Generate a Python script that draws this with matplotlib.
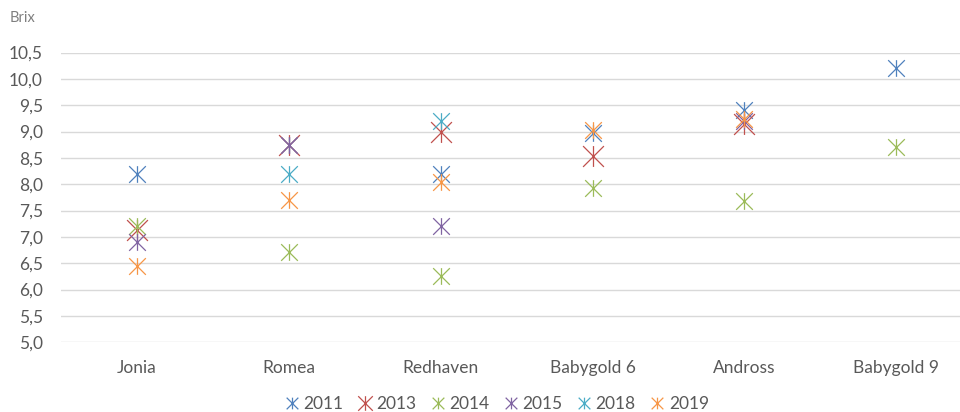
import numpy as np
import matplotlib
matplotlib.use("Agg")
import matplotlib.pyplot as plt
from matplotlib.path import Path

plt.rcParams['font.family'] = ['Lato', 'DejaVu Sans']

categories = ["Jonia", "Romea", "Redhaven", "Babygold 6", "Andross", "Babygold 9"]
nan = np.nan
brix_2011 = [8.2, 8.75, 8.2, 8.98, 9.4, 10.2]
brix_2013 = [7.13, 8.75, 9.0, 8.53, 9.15, nan]
brix_2014 = [7.2, 6.72, 6.25, 7.93, 7.68, 8.7]
brix_2015 = [6.9, 8.75, 7.2, nan, 9.2, nan]
brix_2018 = [nan, 8.2, 9.2, nan, nan, nan]
brix_2019 = [6.45, 7.7, 8.04, 9.03, 9.24, nan]

series = [
    ("2011", brix_2011, "#4F81BD", 12),
    ("2013", brix_2013, "#C0504D", 15),
    ("2014", brix_2014, "#9BBB59", 12),
    ("2015", brix_2015, "#8064A2", 12),
    ("2018", brix_2018, "#4BACC6", 12),
    ("2019", brix_2019, "#F79646", 12),
]

# excel style star: X with a vertical bar
star = Path([(0, -1), (0, 1), (-1, -1), (1, 1), (-1, 1), (1, -1)],
            [Path.MOVETO, Path.LINETO, Path.MOVETO, Path.LINETO, Path.MOVETO, Path.LINETO])

fig = plt.figure(figsize=(9.6, 4.12), dpi=100)
ax = fig.add_axes([61 / 960, 69.7 / 412, 1 - 61 / 960, 0.7033])

for name, vals, color, ms in series:
    ax.plot(categories, vals, linestyle="none", marker=star, markersize=ms,
            markerfacecolor="none", markeredgecolor=color, markeredgewidth=0.9,
            label=name)

ax.set_ylim(5.0, 10.5)
ax.set_xlim(-0.5, 5.42)
yt = np.arange(5.0, 10.51, 0.5)
ax.set_yticks(yt)
ax.set_yticklabels([f"{v:.1f}".replace(".", ",") for v in yt])
ax.grid(axis="y", color="#D9D9D9", linewidth=1)
ax.set_axisbelow(True)
for s in ax.spines.values():
    s.set_visible(False)
ax.tick_params(axis="both", length=0, colors="#595959", labelsize=12.5)
ax.tick_params(axis="y", pad=13)
ax.tick_params(axis="x", pad=13)

fig.text(10 / 960, 1 - 18 / 412, "Brix", color="#7F7F7F", fontsize=10.5, va="center")

fig.legend(loc="center", bbox_to_anchor=(497 / 960, 1 - 404 / 412), ncol=6,
           frameon=False, markerscale=0.7, handlelength=0.8, handletextpad=0.25,
           columnspacing=0.85, fontsize=12.5, labelcolor="#595959")

fig.savefig("out.png", dpi=100)
